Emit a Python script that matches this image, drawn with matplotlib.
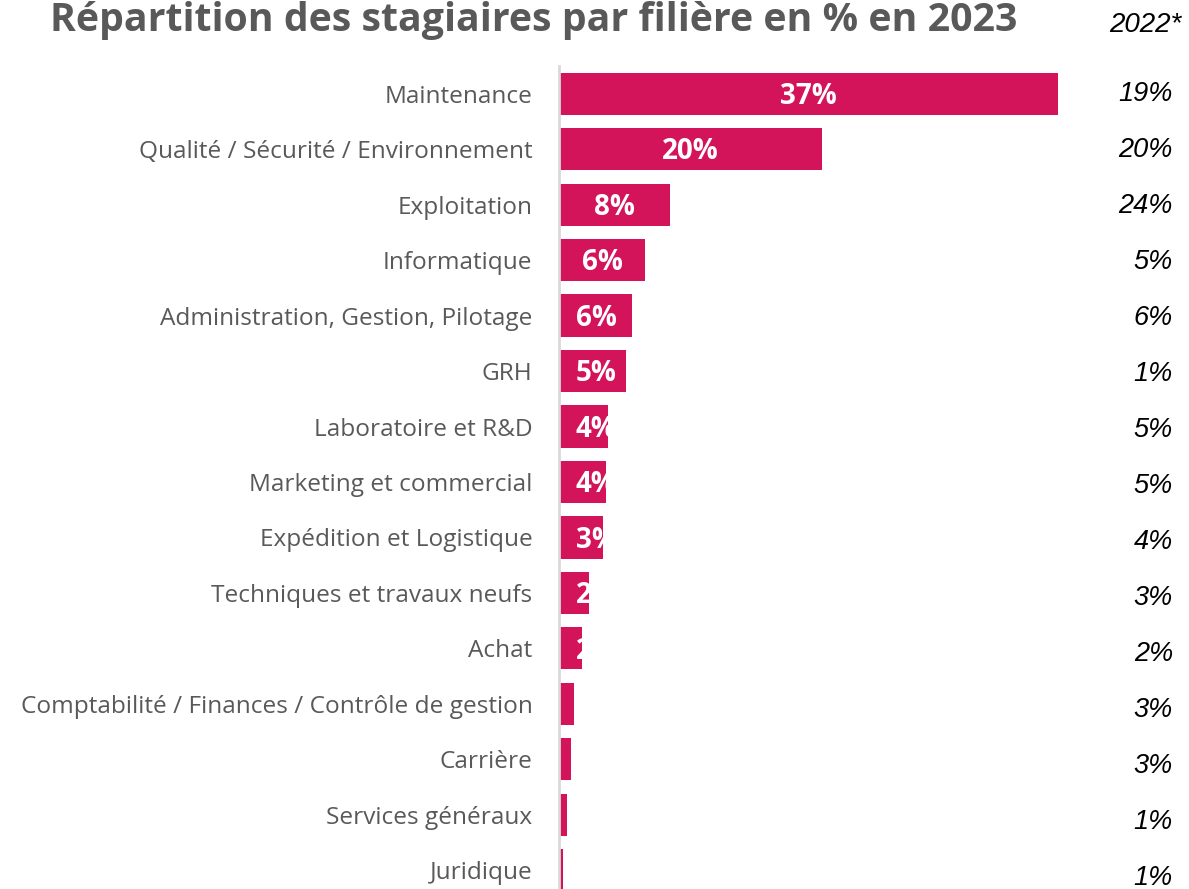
import matplotlib
matplotlib.use("Agg")
import matplotlib.pyplot as plt

# ---------------------
# DATA
# ---------------------
categories = [
    "Maintenance",
    "Qualité / Sécurité / Environnement",
    "Exploitation",
    "Informatique",
    "Administration, Gestion, Pilotage",
    "GRH",
    "Laboratoire et R&D",
    "Marketing et commercial",
    "Expédition et Logistique",
    "Techniques et travaux neufs",
    "Achat",
    "Comptabilité / Finances / Contrôle de gestion",
    "Carrière",
    "Services généraux",
    "Juridique",
]
values_2023 = [37.0, 19.5, 8.2, 6.4, 5.4, 5.0, 3.6, 3.5, 3.3, 2.2, 1.7, 1.1, 0.9, 0.6, 0.3]
labels_2023 = ["37%", "20%", "8%", "6%", "6%", "5%", "4%", "4%", "3%", "2%", "2%", "1%", "1%", "1%", "0%"]
labels_2022 = ["19%", "20%", "24%", "5%", "6%", "1%", "5%", "5%", "4%", "3%", "2%", "3%", "3%", "1%", "1%"]

BAR_COLOR = "#D4145A"
GREY = "#595959"
W, H = 1189, 889

# ---------------------
# FIGURE
# ---------------------
fig = plt.figure(figsize=(W / 100, H / 100), dpi=100)
ax = fig.add_axes([559 / W, -0.0101, 0.4535, 0.9359])

ypos = list(range(len(categories)))
bars = ax.barh(ypos, values_2023, height=0.76, color=BAR_COLOR)

ax.set_xlim(0, 40)
ax.set_ylim(len(categories) - 0.5, -0.5)
ax.set_yticks(ypos)
ax.set_yticklabels(categories, fontsize=17.6, color=GREY, family="Open Sans")
ax.tick_params(axis="y", length=0, pad=19)
ax.set_xticks([])
for side in ["top", "right", "bottom"]:
    ax.spines[side].set_visible(False)
ax.spines["left"].set_color("#D9D9D9")
ax.spines["left"].set_linewidth(2)

# labels inside bars, clipped by the bar like in Excel
min_left = 1.25
for bar, v, lab in zip(bars, values_2023, labels_2023):
    y = bar.get_y() + bar.get_height() / 2 + 0.05
    if v / 2 - 1.6 < min_left:
        t = ax.text(min_left, y, lab, ha="left", va="center", color="white",
                    fontsize=20, fontweight="bold", family="Open Sans")
    else:
        t = ax.text(v / 2, y, lab, ha="center", va="center", color="white",
                    fontsize=20, fontweight="bold", family="Open Sans")
    t.set_clip_path(bar)

# 2022 column (its own invisible axes, rows slightly wider apart)
ax2 = fig.add_axes([1000 / W, 1 - 906 / H, 173 / W, 840 / H])
ax2.set_xlim(0, 1)
ax2.set_ylim(len(categories) - 0.5, -0.5)
ax2.axis("off")
for y, lab in zip(ypos, labels_2022):
    ax2.text(1, y, lab, ha="right", va="center", fontsize=19.5, style="italic",
             family="Liberation Sans", color="black")

fig.text(50 / W, 1 - 20 / H, "Répartition des stagiaires par filière en % en 2023",
         ha="left", va="center", fontsize=28.3, fontweight="bold", color=GREY, family="Open Sans")
fig.text(1181 / W, 1 - 25 / H, "2022*", ha="right", va="center", fontsize=20,
         style="italic", family="Liberation Sans", color="black")

fig.savefig("out.png", dpi=100)
